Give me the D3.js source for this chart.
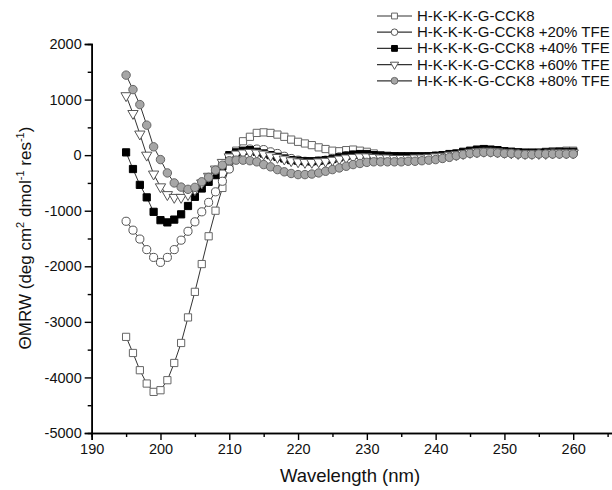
<!DOCTYPE html>
<html>
<head>
<meta charset="utf-8">
<script src="https://cdn.jsdelivr.net/npm/d3@7"></script>
<style>
  body { margin: 0; background: #fff; }
  svg { display: block; font-family: "Liberation Sans", Arial, sans-serif; }
</style>
</head>
<body>
<svg id="chart" width="612" height="490"></svg>
<script>
// wavelength (nm), one reading per nm
let wavelengths = d3.range(195, 261);

let seriesNames = [
  'H-K-K-K-G-CCK8',
  'H-K-K-K-G-CCK8 +20% TFE',
  'H-K-K-K-G-CCK8 +40% TFE',
  'H-K-K-K-G-CCK8 +60% TFE',
  'H-K-K-K-G-CCK8 +80% TFE'
];

let tfe0 = [-3270, -3560, -3870, -4110, -4260, -4230, -4050, -3740, -3380, -2920,
  -2460, -1960, -1460, -1000, -590, -210, 80, 250, 330, 400,
  410, 400, 370, 330, 280, 240, 210, 180, 140, 110,
  80, 70, 90, 100, 80, 60, 30, 0, -10, -20,
  -30, -40, -40, -40, -30, -30, -10, 0, 20, 40,
  60, 80, 90, 90, 80, 70, 60, 50, 50, 50,
  50, 60, 70, 70, 80, 80];

let tfe20 = [-1190, -1350, -1510, -1700, -1840, -1930, -1840, -1700, -1530, -1370,
  -1200, -1020, -850, -660, -470, -250, -60, 60, 110, 110,
  100, 60, 30, -20, -60, -90, -110, -120, -110, -90,
  -60, -30, -10, 0, 0, -10, -20, -30, -40, -40,
  -40, -40, -40, -40, -30, -20, -10, 0, 20, 30,
  50, 60, 60, 60, 50, 40, 40, 30, 30, 30,
  30, 30, 30, 40, 40, 40];

let tfe40 = [50, -250, -535, -760, -1020, -1170, -1210, -1160, -1065, -915,
  -750, -600, -480, -360, -200, 0, 50, 80, 90, 60,
  30, 0, -30, -60, -90, -100, -110, -110, -100, -90,
  -70, -40, -10, 10, 20, 20, 0, -10, -20, -20,
  -20, -20, -20, -20, -20, -10, 0, 20, 30, 60,
  80, 100, 110, 100, 90, 70, 60, 50, 40, 40,
  40, 50, 50, 60, 60, 60];

let tfe60 = [1070, 750, 380, 0, -340, -570, -710, -760, -760, -710,
  -620, -500, -380, -250, -130, -30, 20, 40, 50, 40,
  20, -10, -40, -70, -100, -120, -130, -130, -120, -110,
  -90, -70, -50, -40, -30, -30, -40, -50, -50, -60,
  -60, -60, -50, -50, -40, -30, -20, 0, 10, 30,
  50, 60, 70, 70, 60, 50, 40, 30, 30, 30,
  30, 30, 40, 40, 40, 40];

let tfe80 = [1440, 1180, 910, 540, 150, -80, -320, -500, -575, -615,
  -580, -480, -400, -270, -180, -100, -90, -90, -100, -120,
  -170, -210, -260, -300, -330, -350, -350, -340, -320, -290,
  -260, -230, -200, -170, -150, -130, -120, -120, -120, -120,
  -120, -110, -110, -100, -90, -80, -60, -40, -10, 10,
  30, 40, 50, 50, 40, 30, 30, 20, 10, 10,
  20, 20, 20, 20, 20, 20];

let seriesValues = [tfe0, tfe20, tfe40, tfe60, tfe80];

let xMajorTicks = [190, 200, 210, 220, 230, 240, 250, 260];
let yMajorTicks = [-5000, -4000, -3000, -2000, -1000, 0, 1000, 2000];

// marker look per series
let markerStyles = [
  { shape: d3.symbolSquare, size: 52, fill: '#fff', stroke: '#666', rotate: 0 },
  { shape: d3.symbolCircle, size: 52, fill: '#fff', stroke: '#555', rotate: 0 },
  { shape: d3.symbolSquare, size: 52, fill: '#000', stroke: '#000', rotate: 0 },
  { shape: d3.symbolTriangle, size: 46, fill: '#fff', stroke: '#555', rotate: 180 },
  { shape: d3.symbolCircle, size: 56, fill: '#a6a6a6', stroke: '#666', rotate: 0 }
];

let svg = d3.select('#chart');

let xScale = d3.scaleLinear().domain([190, 270]).range([91.7, 642]);
let yScale = d3.scaleLinear().domain([-5000, 2000]).range([433, 44]);

// axes (plain hyphen for negatives, like the original)
let xAxis = d3.axisBottom(xScale).tickValues(xMajorTicks).tickSize(7).tickPadding(4).tickFormat(d => String(d));
let xMinor = d3.axisBottom(xScale).tickValues(d3.range(195, 270, 10)).tickSize(4).tickFormat('');
let yAxis = d3.axisLeft(yScale).tickValues(yMajorTicks).tickSize(7).tickPadding(3).tickFormat(d => String(d));
let yMinor = d3.axisLeft(yScale).tickValues(d3.range(-4500, 2000, 1000)).tickSize(4).tickFormat('');

let drawAxis = (axis, transform) => {
  let g = svg.append('g').attr('transform', transform).call(axis);
  g.select('.domain').attr('stroke', '#000').attr('stroke-width', 1.6);
  g.selectAll('.tick line').attr('stroke', '#000').attr('stroke-width', 1.4);
  g.selectAll('.tick text').attr('fill', '#111').style('font-size', '14.5px');
  return g;
};

drawAxis(xMinor, 'translate(0,433)');
drawAxis(xAxis, 'translate(0,433)');
drawAxis(yMinor, 'translate(91.7,0)');
drawAxis(yAxis, 'translate(91.7,0)');

// axis titles
svg.append('text')
  .attr('x', 350)
  .attr('y', 482)
  .attr('text-anchor', 'middle')
  .style('font-size', '18.5px')
  .attr('fill', '#111')
  .text('Wavelength (nm)');

let yTitle = svg.append('text')
  .attr('transform', 'translate(31,238) rotate(-90)')
  .attr('text-anchor', 'middle')
  .style('font-size', '17px')
  .attr('fill', '#111');
yTitle.append('tspan').text('\u0398MRW (deg cm');
yTitle.append('tspan').attr('dy', -7).style('font-size', '11px').text('2');
yTitle.append('tspan').attr('dy', 7).text(' dmol');
yTitle.append('tspan').attr('dy', -7).style('font-size', '11px').text('-1');
yTitle.append('tspan').attr('dy', 7).text(' res');
yTitle.append('tspan').attr('dy', -7).style('font-size', '11px').text('-1');
yTitle.append('tspan').attr('dy', 7).text(')');

// series lines and markers
let line = d3.line()
  .x((d, i) => xScale(wavelengths[i]))
  .y(d => yScale(d));

seriesValues.forEach((values, s) => {
  let st = markerStyles[s];
  let g = svg.append('g').attr('class', 'series');
  g.append('path')
    .attr('d', line(values))
    .attr('fill', 'none')
    .attr('stroke', '#333')
    .attr('stroke-width', 1);
  g.selectAll('path.marker')
    .data(values)
    .enter()
    .append('path')
    .attr('class', 'marker')
    .attr('d', d3.symbol().type(st.shape).size(st.size))
    .attr('transform', (d, i) => 'translate(' + xScale(wavelengths[i]) + ',' + yScale(d) + ') rotate(' + st.rotate + ')')
    .attr('fill', st.fill)
    .attr('stroke', st.stroke)
    .attr('stroke-width', 1);
});

// legend
let legend = svg.append('g').attr('transform', 'translate(377,0)');
seriesNames.forEach((name, s) => {
  let st = markerStyles[s];
  let y = 16 + s * 16.2;
  legend.append('line')
    .attr('x1', 0).attr('x2', 35)
    .attr('y1', y).attr('y2', y)
    .attr('stroke', '#333').attr('stroke-width', 1.2);
  legend.append('path')
    .attr('d', d3.symbol().type(st.shape).size(st.size * 0.65))
    .attr('transform', 'translate(17.5,' + y + ') rotate(' + st.rotate + ')')
    .attr('fill', st.fill)
    .attr('stroke', st.stroke)
    .attr('stroke-width', 1);
  legend.append('text')
    .attr('x', 40)
    .attr('y', y + 5)
    .style('font-size', '15px')
    .attr('fill', '#111')
    .text(name);
});
</script>
</body>
</html>
